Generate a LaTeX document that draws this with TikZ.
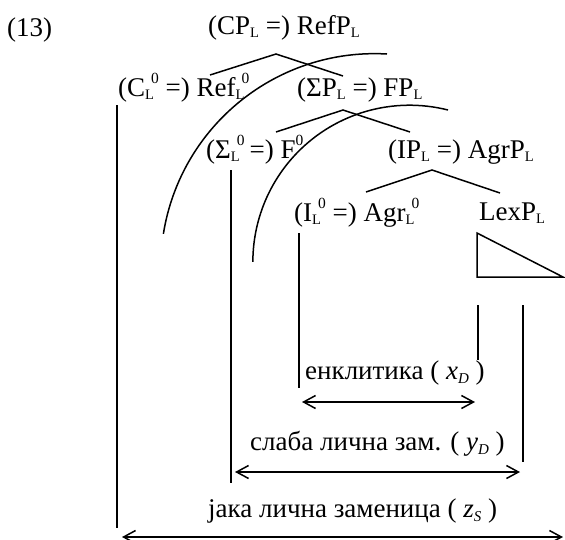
\documentclass[tikz,border=0pt]{standalone}
\usepackage{fontspec}
\setmainfont{Liberation Serif}
\usetikzlibrary{arrows.meta}
\newcommand\Ls{\raisebox{-3pt}{\fontsize{14.5}{14.5}\selectfont L}}
\newcommand\Zs{\raisebox{12.5pt}{\fontsize{15.5}{15.5}\selectfont 0}}
\newcommand\LZ{\makebox[6pt][l]{\Ls}\Zs}
\newcommand\Ds[1]{\raisebox{-4.5pt}{\fontsize{15}{15}\selectfont\textit{#1}}}
\begin{document}
\begin{tikzpicture}[x=1pt,y=-1pt,
  lab/.style={anchor=base west, inner sep=0pt, font=\fontsize{27}{32}\selectfont},
  branch/.style={line width=1.5pt},
  bar/.style={line width=1.6pt},
  dbl/.style={line width=1.5pt, {Straight Barb[length=12pt,width=13pt]}-{Straight Barb[length=12pt,width=13pt]}}]
\useasboundingbox (0,0) rectangle (565,539);
% labels
\node[lab] (ex) at (7,36) {(13)};
\node[lab] (cp) at (208,34) {(CP\Ls\ =) RefP\Ls};
\node[lab] (c0) at (118,96) {(C\LZ\ =) Ref\LZ};
\node[lab] (sp) at (297,96) {(ΣP\Ls\ =) FP\Ls};
\node[lab] (s0) at (206,158) {(Σ\LZ\hspace{5pt}=) F\Zs};
\node[lab] (ip) at (388,158) {(IP\Ls\ =) AgrP\Ls};
\node[lab] (i0) at (294,221) {(I\LZ\ =) Agr\LZ};
\node[lab] (lex) at (479,220) {LexP\Ls};
\node[lab] (t1) at (305,379) {енклитика ( \textit{x}\Ds{D} )};
\node[lab] (t2) at (250,450) {слаба лична зам. ( \textit{y}\Ds{D} )};
\node[lab] (t3) at (208,517) {јака лична заменица ( \textit{z}\Ds{S} )};
% tree branches
\coordinate (r1) at (276,54); \coordinate (r1l) at (210,75); \coordinate (r1r) at (343,76);
\coordinate (r2) at (343,110); \coordinate (r2l) at (276,132); \coordinate (r2r) at (410,132);
\coordinate (r3) at (432,170); \coordinate (r3l) at (366,192); \coordinate (r3r) at (500,193);
\draw[branch] (r1l) -- (r1) -- (r1r);
\draw[branch] (r2l) -- (r2) -- (r2r);
\draw[branch] (r3l) -- (r3) -- (r3r);
% LexP triangle
\coordinate (tA) at (477,233); \coordinate (tB) at (477,277); \coordinate (tC) at (563,277);
\draw[branch] (tA) -- (tB) -- (tC) -- cycle;
% arcs
\coordinate (arcA) at (387,54);
\draw[branch] (arcA) arc[start angle=86.7, end angle=170.9, radius=214pt];
\coordinate (arcB) at (448,110);
\draw[branch] (arcB) arc[start angle=75.8, end angle=180, radius=156.7pt];
% vertical bars
\coordinate (v1t) at (117,105); \coordinate (v1b) at (117,528);
\coordinate (v2t) at (231,170); \coordinate (v2b) at (231,483);
\coordinate (v3t) at (299,233); \coordinate (v3b) at (299,388);
\coordinate (v4t) at (478,305); \coordinate (v4b) at (478,360);
\coordinate (v5t) at (523,305); \coordinate (v5b) at (523,462);
\draw[bar] (v1t) -- (v1b);
\draw[bar] (v2t) -- (v2b);
\draw[bar] (v3t) -- (v3b);
\draw[bar] (v4t) -- (v4b);
\draw[bar] (v5t) -- (v5b);
% double arrows
\coordinate (a1l) at (302,402); \coordinate (a1r) at (475,402);
\coordinate (a2l) at (235,472); \coordinate (a2r) at (520,472);
\coordinate (a3l) at (122,537); \coordinate (a3r) at (563,537);
\draw[dbl] (a1l) -- (a1r);
\draw[dbl] (a2l) -- (a2r);
\draw[dbl] (a3l) -- (a3r);
\end{tikzpicture}
\end{document}
